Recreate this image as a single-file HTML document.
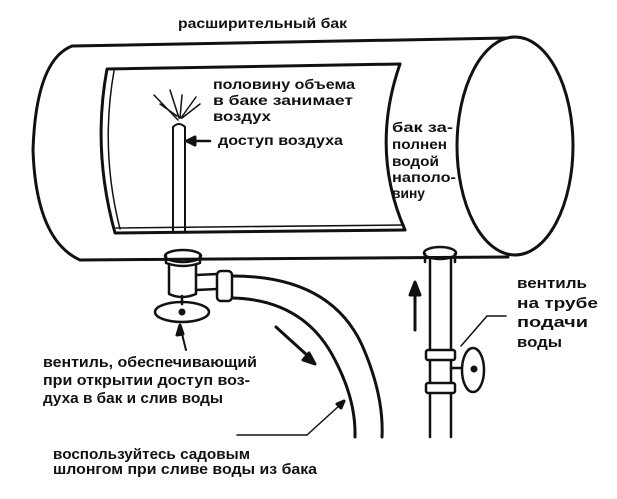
<!DOCTYPE html>
<html><head><meta charset="utf-8"><style>
html,body{margin:0;padding:0;background:#fff}
svg text{font-family:"Liberation Sans","DejaVu Sans",sans-serif;font-weight:bold;fill:#111}
</style></head><body>
<svg width="617" height="494" viewBox="0 0 617 494" xmlns="http://www.w3.org/2000/svg">
<g fill="none" stroke="#111" stroke-width="3" stroke-linecap="round" stroke-linejoin="round">
<path d="M507,38 L72,46 Q36,60 33,150 Q36,240 80,260 L508,257"/>
<ellipse cx="515" cy="146" rx="58" ry="109"/>
<path d="M400,64 L107,69 Q92,150 115,233 L405,230"/>
<path d="M400,64 Q370,150 405,230"/>
<path d="M114,71 Q100,150 120,229" stroke-width="1.5"/>
<path d="M116,228 L404,225" stroke-width="1.5"/>
<path d="M173,231 L173,127 Q179,121 185,127 L185,231" stroke-width="2"/>
<path d="M178,120 L154,95 M179,118 L170,90 M180,118 L182,95 M181,118 L196,97 M182,118 L200,104 M177,116 L160,104" stroke-width="1.5"/>
<path d="M210,141 L190,141" stroke-width="2.5"/>
<path d="M187,141 l8,-4 l0,8 z" fill="#111"/>
<!-- left valve -->
<ellipse cx="183" cy="256" rx="18" ry="6" stroke-width="2.5"/>
<path d="M166,256 L166,263 Q183,269 200,263 L200,256" stroke-width="2.5"/>
<path d="M169,265 L169,294 Q182,300 196,294 L196,265" stroke-width="2.5"/>
<path d="M196,275 L217,274 M196,290 L217,289" stroke-width="2.5"/>
<rect x="217" y="271" width="15" height="30" rx="4" stroke-width="2.5"/>
<path d="M182,296 L182,304" stroke-width="2.5"/>
<ellipse cx="182" cy="312" rx="27" ry="10" stroke-width="2.5"/>
<circle cx="182" cy="312" r="2" fill="#111"/>
<path d="M186,350 L181,330" stroke-width="2"/>
<path d="M180,325 l-3,10 l6,-1 z" fill="#111"/>
<!-- hose -->
<path d="M233,276 Q330,276 362,345 Q384,395 382,437"/>
<path d="M233,298 Q305,300 335,360 Q356,400 355,437"/>
<path d="M276,327 L308,356" stroke-width="3"/>
<path d="M315,364 l-12,-4 l6,-7 z" fill="#111"/>
<path d="M237,435 L307,435 L340,405" stroke-width="1.5"/>
<path d="M344,401 l-7,3 l4,4 z" fill="#111"/>
<!-- right pipe -->
<ellipse cx="440" cy="253" rx="16" ry="6" stroke-width="2.5"/>
<path d="M425,254 L425,262 M455,254 L455,262" stroke-width="2.5"/>
<path d="M430,258 L430,437 M451,258 L451,437" stroke-width="2.5"/>
<rect x="426" y="350" width="29" height="10" rx="2" stroke-width="2.5" fill="#fff"/>
<rect x="426" y="383" width="29" height="10" rx="2" stroke-width="2.5" fill="#fff"/>
<path d="M451,368 L462,368" stroke-width="2.5"/>
<ellipse cx="473" cy="370" rx="11" ry="22" stroke-width="2.5" fill="#fff"/>
<circle cx="474" cy="369" r="2" fill="#111"/>
<path d="M415,330 L415,294" stroke-width="3"/>
<path d="M415,282 l-5,13 l10,0 z" fill="#111"/>
<path d="M506,316 L487,316 L461,346" stroke-width="1.5"/>
</g>
<text x="178" y="28" font-size="14" textLength="169" lengthAdjust="spacingAndGlyphs">расширительный бак</text>
<text x="213" y="89" font-size="14" textLength="142" lengthAdjust="spacingAndGlyphs">половину объема</text>
<text x="213" y="105" font-size="14" textLength="140" lengthAdjust="spacingAndGlyphs">в баке занимает</text>
<text x="213" y="121" font-size="14" textLength="58" lengthAdjust="spacingAndGlyphs">воздух</text>
<text x="218" y="145" font-size="14" textLength="125" lengthAdjust="spacingAndGlyphs">доступ воздуха</text>
<text x="392" y="132" font-size="14" textLength="61" lengthAdjust="spacingAndGlyphs">бак за-</text>
<text x="392" y="149" font-size="14" textLength="55" lengthAdjust="spacingAndGlyphs">полнен</text>
<text x="392" y="166" font-size="14" textLength="47" lengthAdjust="spacingAndGlyphs">водой</text>
<text x="392" y="182" font-size="14" textLength="64" lengthAdjust="spacingAndGlyphs">наполо-</text>
<text x="392" y="198" font-size="14" textLength="33" lengthAdjust="spacingAndGlyphs">вину</text>
<text x="517" y="288" font-size="15" textLength="70" lengthAdjust="spacingAndGlyphs">вентиль</text>
<text x="517" y="308" font-size="15" textLength="81" lengthAdjust="spacingAndGlyphs">на трубе</text>
<text x="517" y="327" font-size="15" textLength="71" lengthAdjust="spacingAndGlyphs">подачи</text>
<text x="517" y="347" font-size="15" textLength="45" lengthAdjust="spacingAndGlyphs">воды</text>
<text x="43" y="367" font-size="14.5" textLength="214" lengthAdjust="spacingAndGlyphs">вентиль, обеспечивающий</text>
<text x="43" y="385" font-size="14.5" textLength="207" lengthAdjust="spacingAndGlyphs">при открытии доступ воз-</text>
<text x="43" y="403" font-size="14.5" textLength="180" lengthAdjust="spacingAndGlyphs">духа в бак и слив воды</text>
<text x="53" y="459" font-size="14.5" textLength="197" lengthAdjust="spacingAndGlyphs">воспользуйтесь садовым</text>
<text x="53" y="474" font-size="14.5" textLength="264" lengthAdjust="spacingAndGlyphs">шлонгом при сливе воды из бака</text>
</svg>
</body></html>
